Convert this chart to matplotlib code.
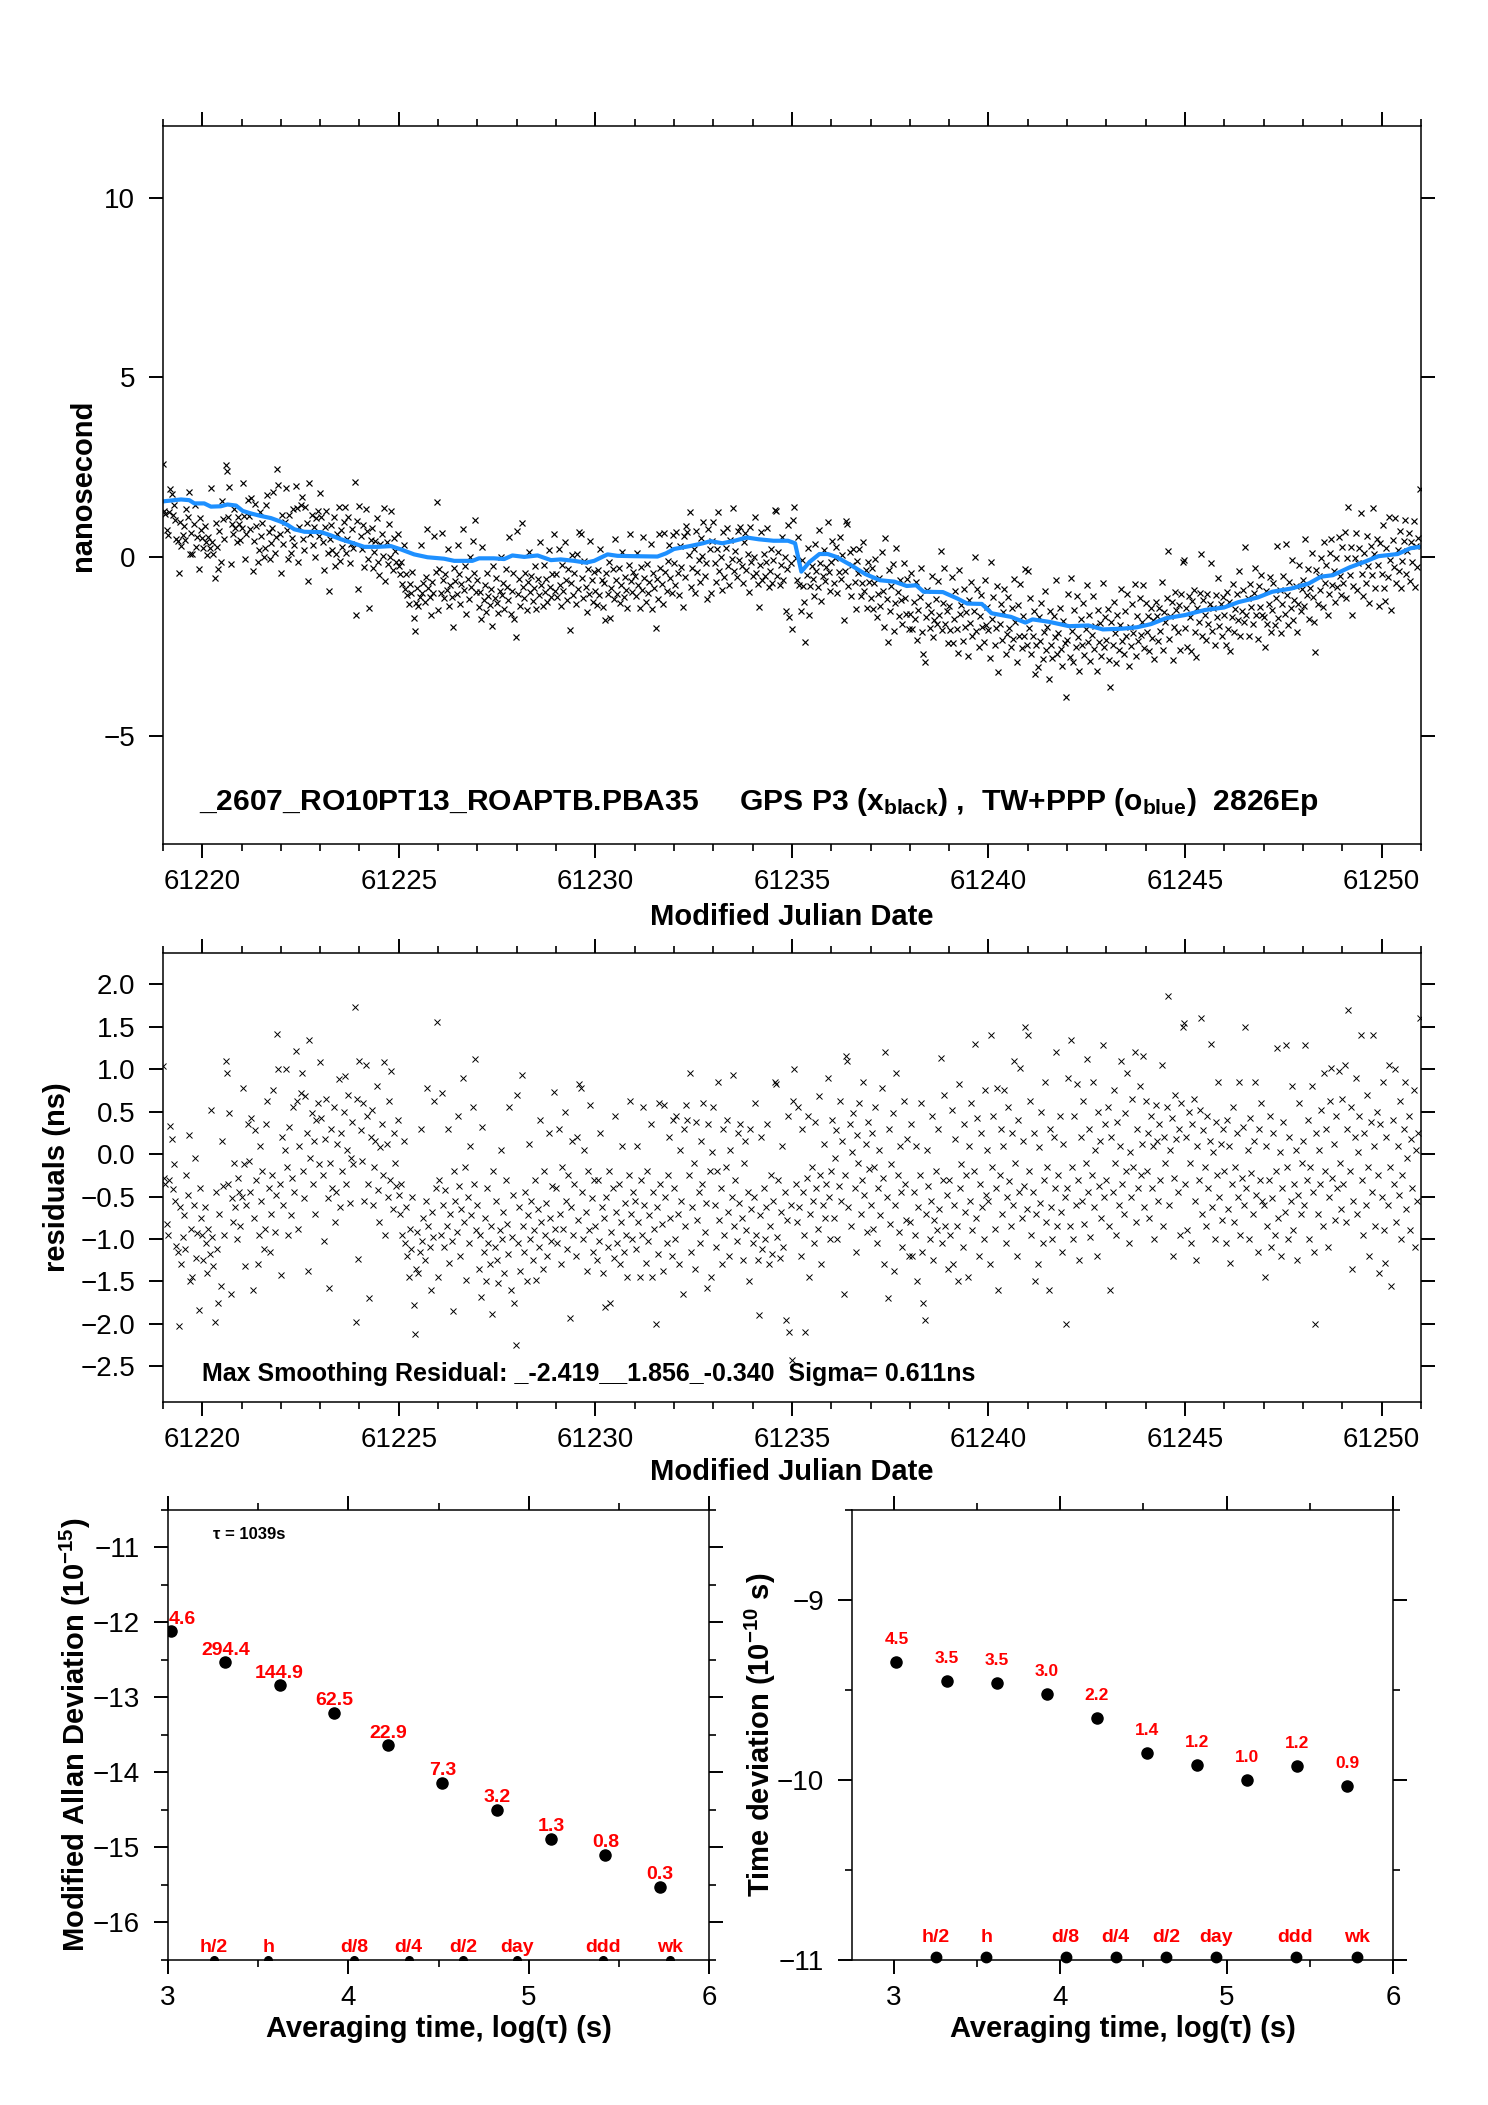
import numpy as np
import matplotlib
matplotlib.use('Agg')
import matplotlib.pyplot as plt
from matplotlib.ticker import MultipleLocator, FuncFormatter

plt.rcParams['font.family'] = ['Liberation Sans', 'DejaVu Sans']
plt.rcParams['mathtext.fontset'] = 'custom'
plt.rcParams['mathtext.rm'] = 'Liberation Sans'
plt.rcParams['mathtext.bf'] = 'Liberation Sans:bold'
plt.rcParams['mathtext.it'] = 'Liberation Sans:italic'

# ---------------- data ----------------
# smoothed TW+PPP curve (blue), MJD and ns
smooth_mjd = [61219.03, 61219.46, 61219.67, 61219.80, 61220.05, 61220.22, 61220.47, 61220.64,
              61220.86, 61221.03, 61221.24, 61221.49, 61221.75, 61222.00, 61222.17, 61222.34,
              61222.60, 61223.02, 61223.27, 61223.53, 61223.82, 61224.12, 61224.46, 61224.80,
              61225.05, 61225.39, 61225.73, 61226.15, 61226.41, 61226.87, 61227.04, 61227.42,
              61227.68, 61227.89, 61228.19, 61228.53, 61228.87, 61229.12, 61229.46, 61229.76,
              61229.97, 61230.31, 61230.56, 61230.98, 61231.58, 61231.80, 61232.00, 61232.40,
              61232.74, 61232.93, 61233.23, 61233.54, 61233.85, 61234.16, 61234.53, 61234.90,
              61235.08, 61235.24, 61235.45, 61235.70, 61235.91, 61236.13, 61236.50, 61236.87,
              61237.24, 61237.61, 61237.92, 61238.16, 61238.35, 61238.84, 61239.21, 61239.46,
              61239.83, 61240.08, 61240.57, 61240.94, 61241.12, 61241.55, 61242.05, 61242.54,
              61242.91, 61243.40, 61243.78, 61244.14, 61244.51, 61245.00, 61245.50, 61245.99,
              61246.36, 61246.85, 61247.22, 61247.71, 61248.15, 61248.46, 61248.76, 61249.19,
              61249.56, 61249.92, 61250.41, 61250.73, 61250.98]
smooth_ns = [1.55, 1.60, 1.58, 1.49, 1.49, 1.40, 1.41, 1.46,
             1.43, 1.28, 1.21, 1.14, 1.08, 0.98, 0.89, 0.77,
             0.70, 0.69, 0.60, 0.49, 0.39, 0.28, 0.28, 0.30,
             0.21, 0.07, -0.01, -0.05, -0.11, -0.11, -0.04, -0.04,
             -0.06, 0.04, 0.00, 0.04, -0.09, -0.07, -0.11, -0.16,
             -0.11, 0.07, 0.03, 0.02, 0.01, 0.10, 0.22, 0.30,
             0.38, 0.44, 0.38, 0.45, 0.54, 0.49, 0.45, 0.45,
             0.38, -0.41, -0.14, 0.08, 0.08, 0.00, -0.23, -0.48,
             -0.65, -0.69, -0.81, -0.79, -0.97, -0.98, -1.16, -1.30,
             -1.31, -1.57, -1.67, -1.83, -1.74, -1.81, -1.93, -1.91,
             -2.02, -2.00, -1.96, -1.87, -1.71, -1.62, -1.48, -1.41,
             -1.26, -1.13, -0.97, -0.88, -0.74, -0.55, -0.51, -0.29,
             -0.14, 0.02, 0.08, 0.24, 0.28]

# residuals (ns), one row per MJD day, evenly spaced epochs within the day
resid_days = list(range(61219, 61251))
resid_rows = [
 [1.04, -0.28, -0.35, -0.82, -0.95, -0.31, 0.33, 0.18, -0.41, -0.12, -0.55, -1.08, -1.15, -2.03, -0.62, -1.30, -0.98, -0.72, -1.12, -0.25, -0.48, 0.22, -1.50, -0.88, -1.45, -0.60, -0.05, -1.22, -0.93, -1.84, -0.40, -0.75],
 [-0.95, -1.25, -0.62, -1.05, -1.40, -0.88, -1.18, 0.52, -0.98, -1.32, -1.98, -0.45, -1.12, -1.75, -0.70, -1.55, 0.15, -0.38, -0.95, 1.10, 0.95, -0.35, 0.48, -1.65, -0.52, -0.80, -0.10, -0.62, -1.00, -0.28, -0.45, -0.85],
 [-0.50, 0.78, -0.12, -1.32, -0.60, 0.35, -0.08, -0.45, 0.42, -1.60, -0.75, 0.28, -0.30, -1.30, -0.95, 0.10, -0.55, -0.20, -1.12, -0.88, 0.35, 0.62, -0.40, -1.15, -0.70, -0.25, 0.75, -0.92, -0.48, 1.42, 1.00, -0.35],
 [-1.42, 0.20, -0.60, 0.05, 1.00, -0.15, -0.95, 0.32, -0.72, -0.28, 0.55, -0.45, 1.22, 0.62, -0.88, 0.10, 0.72, 0.95, -0.20, -0.52, 0.68, 0.25, -1.38, 1.35, -0.05, 0.48, -0.35, 0.15, -0.70, 0.40, 0.60, -0.12],
 [1.08, 0.42, -0.25, -1.02, 0.18, 0.65, -0.52, -1.58, -0.10, 0.30, -0.40, 0.55, -0.80, -0.45, 0.12, 0.88, -0.62, 0.25, -0.20, 0.50, 0.92, -0.35, 0.05, 0.70, -0.58, -0.05, 0.38, -0.12, 1.73, -1.98, 0.65, -1.24],
 [1.10, 0.28, -0.08, 0.60, -0.55, 1.05, 0.45, -0.35, -1.70, 0.20, 0.52, -0.60, -0.15, 0.15, 0.80, -0.42, -0.80, 0.08, 0.35, -0.25, 1.08, -0.95, 0.12, -0.50, 0.62, -0.30, 0.98, -0.65, 0.25, -0.10, -0.38, 0.40],
 [-0.48, -0.70, -0.35, -0.95, 0.15, -1.05, -0.62, -1.20, -1.45, -0.88, -1.12, -0.50, -1.78, -2.12, -1.35, -0.92, -1.40, -1.15, 0.30, -1.02, -0.75, -1.25, -0.55, 0.78, -0.85, -1.10, -1.60, -0.68, -0.98, 0.62, -0.40, 1.56],
 [-1.45, -0.30, -0.95, 0.72, -0.60, -1.10, -0.42, -0.85, 0.30, -1.28, -0.70, -1.02, -1.85, -0.20, -0.55, -0.92, 0.45, -0.38, -1.20, -0.65, 0.90, -0.80, -0.15, -1.48, -0.50, -1.05, 0.10, -0.72, 0.55, -0.35, 1.12, -0.90],
 [-0.60, -1.35, -0.95, -1.68, 0.32, -1.15, -0.75, -1.50, -0.40, -1.05, -1.30, -0.85, -1.88, -0.20, -1.10, -0.55, -1.25, -1.52, -0.90, 0.05, -1.00, -0.68, -1.40, -0.30, -0.82, -1.18, 0.55, -1.60, -0.98, -0.48, -1.75, -2.25],
 [0.70, -1.05, -0.62, -1.38, 0.93, -0.85, -1.15, -0.45, -1.50, -0.72, 0.12, -1.00, -0.55, -1.25, -0.90, -0.30, -1.48, -0.65, -1.10, 0.40, -0.80, -1.35, -0.20, -0.95, -0.58, -1.20, 0.25, -0.75, -1.02, -0.38, 0.73, -0.88],
 [-0.40, -1.05, 0.30, -0.70, -1.30, -0.15, -0.88, 0.50, -0.55, -1.12, -0.25, -1.93, -0.62, 0.15, -0.95, -0.35, -1.20, 0.20, -0.78, 0.82, 0.78, -0.45, -1.00, 0.05, -0.68, -1.38, -0.20, -0.90, 0.58, -0.52, -1.15, -0.30],
 [-0.85, -1.25, -0.30, -1.02, 0.25, -0.62, -1.40, -0.75, -1.80, -0.50, -1.10, -0.20, -1.75, -0.92, -0.40, -1.22, 0.45, -0.68, -1.05, -0.35, -1.30, -0.80, 0.10, -1.15, -0.58, -0.95, -1.45, -0.25, 0.62, -0.70, -1.00, -0.45],
 [-0.55, -1.12, 0.10, -0.80, -1.45, -0.30, -0.95, 0.55, -0.60, -1.28, -0.20, -1.02, -0.72, 0.35, -1.45, -0.45, -0.88, -2.00, -0.62, -1.18, 0.60, -0.35, -0.82, -1.38, 0.58, -0.50, -1.05, -0.25, 0.20, -0.75, -1.20, 0.40],
 [-0.40, -1.00, 0.45, -0.70, -1.30, 0.05, -0.55, -1.65, 0.30, -0.85, 0.58, 0.40, -0.25, 0.95, -1.15, -0.62, -0.10, -1.35, 0.38, -0.78, -0.45, -1.05, 0.15, -0.35, 0.60, -0.92, -0.58, -1.58, 0.35, -0.20, -1.45, 0.02],
 [0.55, -0.60, -1.10, -0.20, 0.85, -0.78, -0.40, -1.30, 0.30, -0.95, -0.15, 0.40, -0.68, -1.20, 0.05, -0.50, 0.93, -0.85, -0.30, -1.02, 0.25, -0.58, 0.35, -0.75, -1.25, -0.10, 0.15, -0.90, -0.45, -1.50, 0.30, -0.65],
 [-1.05, -0.50, 0.60, -0.95, -1.25, -1.90, -0.72, 0.20, -1.12, -0.40, -1.00, -0.62, 0.35, -1.30, -0.85, -0.25, -1.18, -0.55, 0.85, 0.82, -0.98, -0.30, -1.22, -0.68, 0.10, -1.10, -0.45, -1.95, -0.78, 0.45, -2.10, -0.60],
 [-2.43, 0.62, 1.00, -0.35, -0.80, 0.55, -0.62, -1.20, 0.30, -0.45, -0.95, -2.10, -0.28, 0.45, -1.45, -0.70, -0.15, -0.55, -1.05, 0.38, -0.40, -0.88, 0.68, -0.25, -1.30, -0.60, 0.12, -0.75, -0.35, 0.90, -0.50, -1.00],
 [-0.20, 0.40, -0.75, -0.05, 0.28, -1.00, -0.38, 0.62, -0.55, 0.15, -1.65, -0.25, 1.15, 1.10, -0.62, 0.35, -0.85, 0.02, 0.48, -0.40, -1.15, 0.22, -0.10, 0.60, -0.70, -0.30, 0.85, -0.48, 0.12, -0.92, 0.38, -0.18],
 [-0.60, 0.25, -0.88, -0.15, 0.55, -1.05, -0.40, 0.05, -0.72, 0.78, -0.28, -1.30, 1.20, -0.50, -1.70, 0.30, -0.82, -0.12, 0.48, -1.38, -0.60, 0.95, -0.25, -0.92, 0.10, -0.45, -1.10, 0.62, -0.35, -0.78, 0.18, -1.20],
 [-0.80, 0.35, -1.20, -0.45, -0.95, 0.10, -1.50, -0.62, -0.25, 0.60, -1.15, -1.75, -1.95, -0.70, 0.05, -0.38, -1.00, -0.55, 0.45, -1.25, -0.78, -0.20, -0.90, 0.30, -0.65, 1.13, -1.05, -0.30, 0.70, -0.85, -0.48, -1.35],
 [-0.30, -0.95, 0.52, -1.30, -0.60, 0.18, -0.85, -1.50, 0.82, -0.40, -0.12, -1.10, 0.35, -0.68, -0.25, -1.45, 0.10, -0.55, 0.60, -0.90, -0.20, 1.30, -0.75, 0.42, -1.20, -0.35, 0.25, -0.62, -1.00, 0.75, -0.48, 0.05],
 [-0.55, -1.30, 1.40, -0.15, 0.45, -0.88, -0.40, 0.78, -1.60, -0.25, 0.30, -0.70, 0.10, 0.75, -1.05, -0.50, 0.55, -0.32, -0.85, 0.25, -0.60, 1.10, -0.10, -1.20, 0.40, -0.45, 1.02, -0.75, 0.15, -0.38, 1.50, -0.65],
 [1.40, -0.20, 0.62, -0.95, -0.45, 0.25, -1.50, -0.70, -1.30, 0.08, -0.58, 0.50, -1.05, -0.30, 0.85, -0.80, -0.15, -1.60, 0.30, -0.62, -1.00, 0.20, -0.40, 1.20, -0.85, -0.25, 0.45, -0.68, -1.15, 0.12, -0.50, -2.00],
 [-0.40, 0.90, -0.85, 1.35, -0.15, -1.00, 0.45, -0.60, 0.82, -0.30, -1.25, 0.20, -0.55, 0.62, -0.82, -0.10, 1.12, -0.45, 0.30, -0.98, -0.25, 0.85, -0.62, 0.05, -1.20, 0.50, -0.38, 0.15, -0.75, 1.28, -0.50, 0.35],
 [-0.30, 0.55, -0.85, -1.60, 0.20, -0.45, 0.75, -0.10, -0.95, 0.38, -0.60, 0.10, 1.10, -0.35, -0.70, 0.48, -0.20, 0.95, -1.05, 0.02, -0.50, 0.65, -0.15, 1.20, -0.80, 0.30, -0.40, 0.80, -0.25, 0.12, 1.15, -0.62],
 [0.62, -0.20, 0.25, -0.75, 0.45, -0.40, 0.10, -1.00, 0.58, 0.15, -0.55, 0.35, -0.30, 1.05, -0.85, 0.20, -0.10, 0.55, 1.86, -0.60, 0.05, 0.42, -1.20, -0.28, 0.70, 0.18, -0.45, 0.30, -0.95, 0.60, 1.50, 1.55],
 [-0.35, 0.20, -0.90, 0.50, -0.10, -1.05, 0.35, 0.65, -0.55, -1.25, 0.10, -0.30, 0.52, 1.60, -0.70, 0.28, -0.15, -0.85, 0.45, -0.40, 0.15, 1.30, -0.62, 0.02, -1.00, 0.38, -0.25, 0.85, -0.50, 0.12, -0.78, 0.30],
 [-0.20, -1.05, 0.40, -0.65, 0.10, -1.28, -0.35, 0.55, -0.80, -0.15, 0.25, -0.50, 0.85, -0.95, -0.28, 0.32, -0.60, 1.50, -0.40, 0.05, -1.00, 0.42, -0.22, -0.70, 0.15, 0.85, -0.48, -1.15, 0.30, -0.30, 0.60, -0.55],
 [-0.60, -1.45, 0.10, -0.85, -0.30, 0.45, -1.10, -0.52, 0.25, -0.95, -0.20, 1.25, -0.75, 0.02, -1.20, -0.40, 0.38, -0.68, 1.28, -0.15, -1.00, 0.20, -0.55, 0.80, -0.90, -0.35, 0.05, -1.25, -0.48, 0.60, -0.70, -0.10],
 [0.15, -0.60, 1.28, -0.30, 0.40, -1.00, -0.15, 0.80, -0.45, -1.15, -2.00, 0.25, -0.70, 0.05, -0.35, 0.52, -0.85, 0.95, -0.20, 0.30, -1.10, -0.50, 0.62, 1.02, -0.28, 0.12, -0.78, 0.45, -0.40, 0.98, -0.10, -0.65],
 [0.65, -0.35, 1.05, -0.80, 0.30, 1.70, -0.20, 0.55, -1.35, -0.55, 0.20, 0.90, -0.70, 0.02, 0.45, 1.40, -0.30, -0.95, 0.25, -0.60, 0.70, -0.15, -1.20, 0.38, -0.45, 1.40, 0.10, -0.85, 0.50, -0.25, -1.40, 0.35],
 [-0.50, 0.85, -0.90, -1.28, 0.20, -0.60, 1.05, -0.15, -1.55, 0.40, -0.35, 1.00, -0.80, 0.10, -0.48, 0.62, -1.00, -0.25, 0.30, 0.85, -0.65, -0.05, 0.45, -0.90, 0.18, -0.40, 0.75, -1.10, 0.05, -0.55, 0.25, 1.60],
]

# stability analysis
tau_log = [3.017, 3.318, 3.619, 3.920, 4.221, 4.522, 4.823, 5.124, 5.425, 5.726]
mdev_log = [-12.12, -12.531, -12.839, -13.204, -13.640, -14.137, -14.495, -14.886, -15.097, -15.523]
mdev_lbl = ['4.6', '294.4', '144.9', '62.5', '22.9', '7.3', '3.2', '1.3', '0.8', '0.3']
tdev_log = [-9.344, -9.453, -9.460, -9.523, -9.658, -9.852, -9.917, -9.998, -9.924, -10.035]
tdev_lbl = ['4.5', '3.5', '3.5', '3.0', '2.2', '1.4', '1.2', '1.0', '1.2', '0.9']
mark_log = [3.255, 3.556, 4.033, 4.334, 4.635, 4.937, 5.414, 5.782]
mark_lbl = ['h/2', 'h', 'd/8', 'd/4', 'd/2', 'day', 'ddd', 'wk']

# derived series
t_all = np.concatenate([d + np.arange(len(r)) / len(r) for d, r in zip(resid_days, resid_rows)])
res_all = np.concatenate([np.array(r, float) for r in resid_rows])
gps_all = np.interp(t_all, smooth_mjd, smooth_ns) + res_all

# ---------------- figure ----------------
fig = plt.figure(figsize=(14.88, 21.05), dpi=100)
ax1 = fig.add_axes([0.1095, 0.5990, 0.8454, 0.3411])
ax2 = fig.add_axes([0.1095, 0.3340, 0.8454, 0.2133])
ax3 = fig.add_axes([0.1129, 0.0689, 0.3636, 0.2138])
ax4 = fig.add_axes([0.5726, 0.0689, 0.3636, 0.2138])

minus = lambda fmt: FuncFormatter(lambda v, p: (fmt % v).replace('-', '\u2212'))


def style(ax):
    ax.tick_params(which='both', direction='out', top=True, right=True,
                   labeltop=False, labelright=False, labelsize=20)
    ax.tick_params(which='major', length=10, width=1.4)
    ax.tick_params(which='minor', length=5, width=1.2)
    ax.tick_params(axis='x', which='both', pad=8)
    ax.tick_params(axis='y', which='both', pad=10)
    for s in ax.spines.values():
        s.set_linewidth(1.1)


LBL = dict(fontsize=21, fontweight='bold')

# --- top panel
ax1.plot(t_all, gps_all, linestyle='none', marker='x', color='black', ms=4.8, mew=0.85)
ax1.plot(smooth_mjd, smooth_ns, color='#1e90ff', lw=3.0)
ax1.set_xlim(61219.0, 61251.0)
ax1.set_ylim(-8, 12)
ax1.xaxis.set_major_locator(MultipleLocator(5))
ax1.xaxis.set_minor_locator(MultipleLocator(1))
ax1.yaxis.set_major_locator(MultipleLocator(5))
ax1.xaxis.set_major_formatter(minus('%d'))
ax1.yaxis.set_major_formatter(minus('%d'))
style(ax1)
ax1.text(0.5, -0.112, 'Modified Julian Date', transform=ax1.transAxes, ha='center', va='baseline', **LBL)
ax1.text(-0.0636, 0.5, 'nanosecond', transform=ax1.transAxes, ha='center', va='center', rotation=90, **LBL)
ax1.text(0.0286, 0.048,
         r'_2607_RO10PT13_ROAPTB.PBA35     GPS P3 ($\mathbf{x}_{\mathbf{black}}$) ,  TW+PPP ($\mathbf{o}_{\mathbf{blue}}$)  2826Ep',
         transform=ax1.transAxes, ha='left', va='baseline', fontsize=21.6, fontweight='bold')

# --- residual panel
ax2.plot(t_all, res_all, linestyle='none', marker='x', color='black', ms=4.0, mew=0.7)
ax2.set_xlim(61219.0, 61251.0)
ax2.set_ylim(-2.92, 2.37)
ax2.xaxis.set_major_locator(MultipleLocator(5))
ax2.xaxis.set_minor_locator(MultipleLocator(1))
ax2.yaxis.set_major_locator(MultipleLocator(0.5))
ax2.xaxis.set_major_formatter(minus('%d'))
ax2.yaxis.set_major_formatter(minus('%.1f'))
style(ax2)
ax2.text(0.5, -0.174, 'Modified Julian Date', transform=ax2.transAxes, ha='center', va='baseline', **LBL)
ax2.text(-0.084, 0.5, 'residuals (ns)', transform=ax2.transAxes, ha='center', va='center', rotation=90, **LBL)
ax2.text(0.031, 0.047, 'Max Smoothing Residual: _-2.419__1.856_-0.340  Sigma= 0.611ns',
         transform=ax2.transAxes, ha='left', va='baseline', fontsize=18, fontweight='bold')

# --- MDEV panel
ax3.plot(tau_log, mdev_log, linestyle='none', marker='o', color='black', ms=8)
ax3.plot(mark_log, [-16.5] * len(mark_log), linestyle='none', marker='o', color='black', ms=5.5)
for i, (x, y, s) in enumerate(zip(tau_log, mdev_log, mdev_lbl)):
    ax3.text(3.005 if i == 0 else x, y + 0.1, s, ha='left' if i == 0 else 'center', va='baseline',
             color='red', fontsize=14, fontweight='bold')
for x, s in zip(mark_log, mark_lbl):
    ax3.text(x, -16.5 + 0.1, s, ha='center', va='baseline', color='red', fontsize=14, fontweight='bold')
ax3.set_xlim(3, 6)
ax3.set_ylim(-16.5, -10.5)
ax3.xaxis.set_major_locator(MultipleLocator(1))
ax3.xaxis.set_minor_locator(MultipleLocator(0.5))
ax3.yaxis.set_major_locator(MultipleLocator(1))
ax3.yaxis.set_minor_locator(MultipleLocator(0.5))
ax3.xaxis.set_major_formatter(minus('%d'))
ax3.yaxis.set_major_formatter(minus('%d'))
style(ax3)
ax3.text(0.083, 0.936, '\u03c4 = 1039s', transform=ax3.transAxes, ha='left', va='baseline',
         fontsize=12, fontweight='bold')
ax3.text(0.5, -0.171, 'Averaging time, log(\u03c4) (s)', transform=ax3.transAxes, ha='center', va='baseline', **LBL)
ax3.text(-0.172, 0.5, r'Modified Allan Deviation (10$^{\mathbf{-15}}$)', transform=ax3.transAxes,
         ha='center', va='center', rotation=90, **LBL)

# --- TDEV panel
ax4.plot(tau_log, tdev_log, linestyle='none', marker='o', color='black', ms=8)
ax4.plot(mark_log, [-10.985] * len(mark_log), linestyle='none', marker='o', color='black', ms=7.5, clip_on=False)
for x, y, s in zip(tau_log, tdev_log, tdev_lbl):
    ax4.text(x, y + 0.1, s, ha='center', va='baseline', color='red', fontsize=12.5, fontweight='bold')
for x, s in zip(mark_log, mark_lbl):
    ax4.text(x, -11 + 0.1, s, ha='center', va='baseline', color='red', fontsize=14, fontweight='bold')
ax4.set_xlim(2.75, 6)
ax4.set_ylim(-11, -8.5)
ax4.xaxis.set_major_locator(MultipleLocator(1))
ax4.xaxis.set_minor_locator(MultipleLocator(0.5))
ax4.yaxis.set_major_locator(MultipleLocator(1))
ax4.yaxis.set_minor_locator(MultipleLocator(0.5))
ax4.xaxis.set_major_formatter(minus('%d'))
ax4.yaxis.set_major_formatter(minus('%d'))
style(ax4)
ax4.text(0.5, -0.171, 'Averaging time, log(\u03c4) (s)', transform=ax4.transAxes, ha='center', va='baseline', **LBL)
ax4.text(-0.170, 0.5, r'Time deviation (10$^{\mathbf{-10}}$ s)', transform=ax4.transAxes,
         ha='center', va='center', rotation=90, **LBL)

fig.savefig('out.png', dpi=100, facecolor='white')
